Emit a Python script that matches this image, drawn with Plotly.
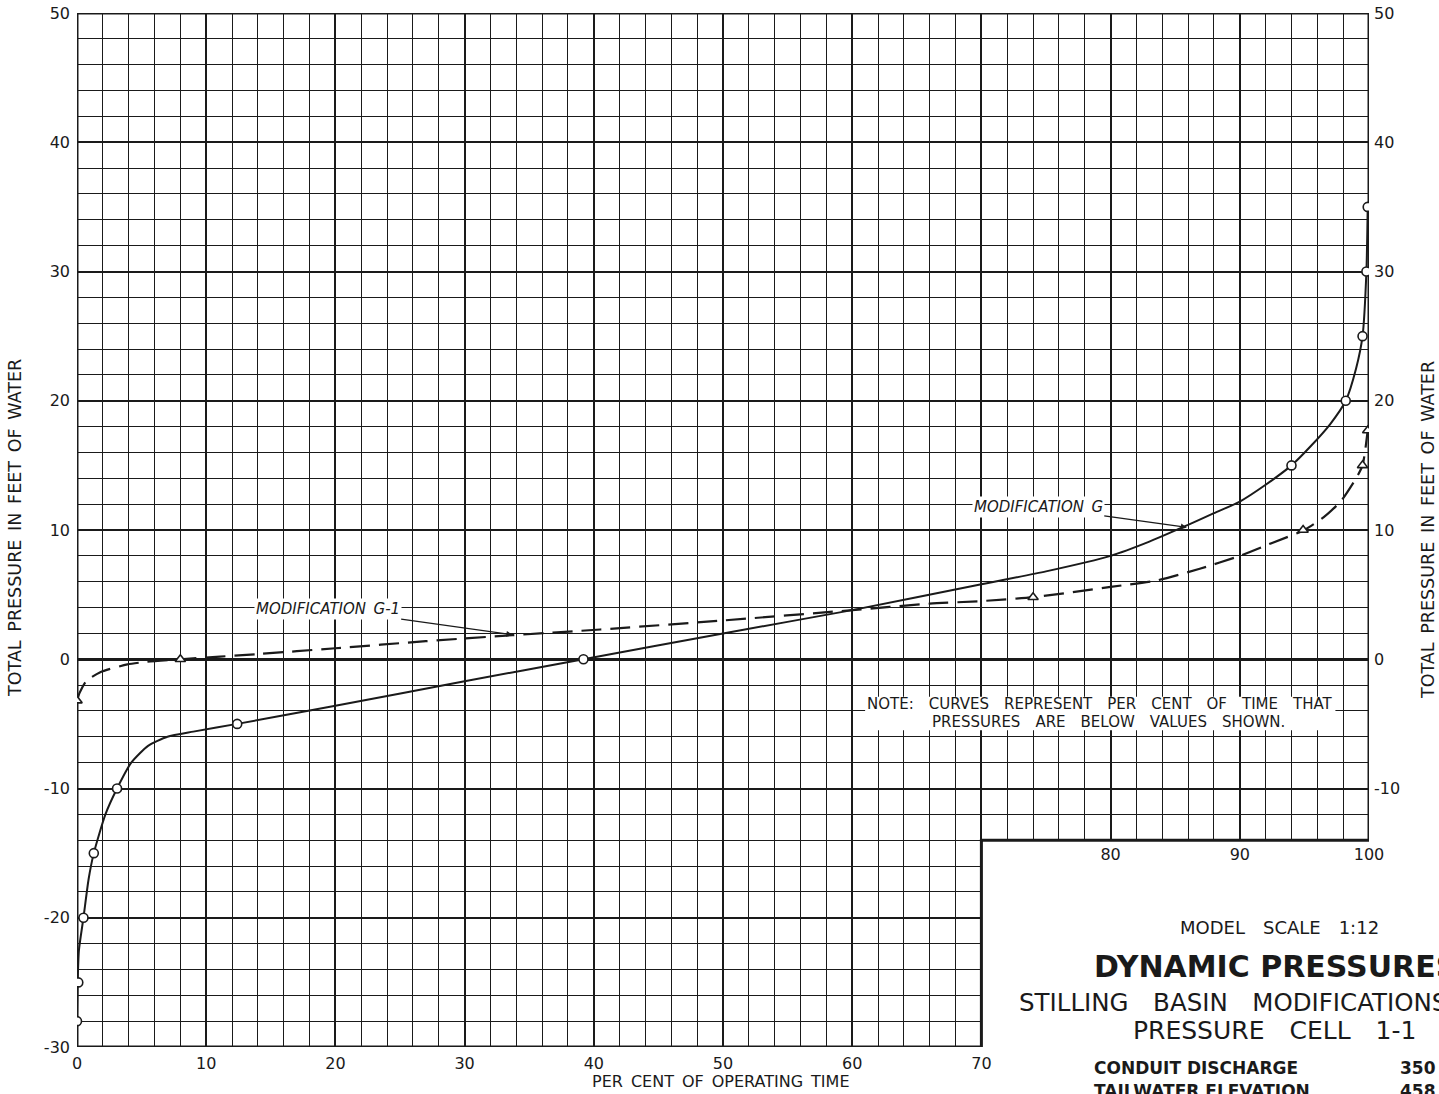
import plotly.graph_objects as go

# Modification G: plotted observations (open circles) and the faired curve
g_pts_x = [0, 0.1, 0.5, 1.3, 3.1, 12.4, 39.2, 94.0, 98.2, 99.5, 99.8, 99.9]
g_pts_y = [-28, -25, -20, -15, -10, -5, 0, 15, 20, 25, 30, 35]
g_curve_x = [0, 0.05, 0.15, 0.5, 0.9, 1.3, 2.2, 3.1, 4.2, 5.5, 7, 9, 12.4, 20, 30,
             39.2, 50, 60, 70, 75, 80, 83, 86, 88, 90, 92, 94, 95.5, 97, 98.2, 99, 99.5,
             99.8, 99.9]
g_curve_y = [-28, -25, -22.5, -20, -17, -15, -12, -10, -8, -6.7, -6, -5.6, -5, -3.6, -1.7,
             0, 2.0, 3.8, 5.8, 6.8, 8.0, 9.1, 10.4, 11.3, 12.2, 13.5, 15, 16.5, 18.2, 20,
             22.5, 25, 30, 35]

# Modification G-1: plotted observations (triangles) and the faired curve
g1_pts_x = [0, 8, 74, 94.9, 99.5, 99.9]
g1_pts_y = [-3.2, 0, 4.8, 10, 15, 17.7]
g1_curve_x = [0, 0.2, 0.7, 1.8, 3.9, 5.4, 8, 14, 20, 27, 33.7, 40.5, 50, 60, 66, 70, 74,
              80, 83.6, 86.9, 90, 92.5, 95, 96.5, 97.8, 99, 99.5, 99.9]
g1_curve_y = [-3.2, -2.6, -1.7, -1.0, -0.4, -0.2, 0, 0.4, 0.85, 1.4, 1.86, 2.3, 3.0, 3.8,
              4.3, 4.5, 4.8, 5.6, 6.1, 7.0, 8.0, 9.0, 10, 11, 12.2, 14, 15, 17.7]

x_ticks = [0, 10, 20, 30, 40, 50, 60, 70, 80, 90, 100]
x_labels_low = ['0', '10', '20', '30', '40', '50', '60', '70', '', '', '']
x_ticks_high = [80, 90, 100]
y_ticks = [-30, -20, -10, 0, 10, 20, 30, 40, 50]
y_labels = ['-30', '-20', '-10', '0', '10', '20', '30', '40', '50']
y_ticks_right = [-10, 0, 10, 20, 30, 40, 50]
y_labels_right = ['-10', '0', '10', '20', '30', '40', '50']

INK = '#1a1a1a'
FONT = 'DejaVu Sans'


def wide(s, n=1):
    # hand lettering on the original is widely spaced between words
    return s.replace(' ', '\u2002' * n)


fig = go.Figure()

# white-out of the lower right corner (the chart is cut there for the title block)
fig.add_shape(type='rect', x0=70, x1=101, y0=-31, y1=-14, layer='between',
              fillcolor='white', line=dict(width=0))
# white panel behind the note
fig.add_shape(type='rect', x0=61.0, x1=97.4, y0=-5.5, y1=-2.9, layer='between',
              fillcolor='white', line=dict(width=0))
# heavy border around the L-shaped grid
fig.add_shape(type='path', layer='between',
              path='M 0,50 L 100,50 L 100,-14 L 70,-14 L 70,-30 L 0,-30 Z',
              line=dict(color=INK, width=3))

fig.add_trace(go.Scatter(
    x=g_curve_x, y=g_curve_y, mode='lines',
    line=dict(color=INK, width=2, shape='spline', smoothing=0.6),
    hoverinfo='skip', showlegend=False))
fig.add_trace(go.Scatter(
    x=g1_curve_x, y=g1_curve_y, mode='lines',
    line=dict(color=INK, width=2.2, dash='20px,9px', shape='spline', smoothing=0.6),
    hoverinfo='skip', showlegend=False))
fig.add_trace(go.Scatter(
    x=g_pts_x, y=g_pts_y, mode='markers', name='Modification G',
    marker=dict(symbol='circle', size=9, color='white', line=dict(color=INK, width=1.6)),
    showlegend=False))
fig.add_trace(go.Scatter(
    x=g1_pts_x, y=g1_pts_y, mode='markers', name='Modification G-1',
    marker=dict(symbol='triangle-up', size=9, color='white', line=dict(color=INK, width=1.6)),
    showlegend=False))
# carrier for the secondary axes
fig.add_trace(go.Scatter(x=[None], y=[None], xaxis='x2', yaxis='y2',
                         showlegend=False, hoverinfo='skip'))

tick_font = dict(family=FONT, size=16, color=INK)
grid = dict(showgrid=True, gridcolor=INK, gridwidth=2,
            minor=dict(dtick=2, showgrid=True, gridcolor=INK, gridwidth=1.4))

fig.update_layout(
    width=1439, height=1094,
    margin=dict(l=77, r=70, t=13, b=47, pad=0),
    paper_bgcolor='white', plot_bgcolor='white',
    showlegend=False,
    font=dict(family=FONT, color=INK),
    xaxis=dict(range=[0, 100], tickvals=x_ticks, ticktext=x_labels_low, ticks='',
               zeroline=False, showline=False, automargin=False,
               tickfont=tick_font, ticklabelstandoff=5, **grid),
    yaxis=dict(range=[-30, 50], tickvals=y_ticks, ticktext=y_labels, ticks='',
               zeroline=True, zerolinecolor=INK, zerolinewidth=2.8,
               showline=False, automargin=False, tickfont=tick_font,
               ticklabelstandoff=6, ticklabeloverflow='allow', **grid),
    xaxis2=dict(range=[0, 100], overlaying='x', anchor='free', position=0.2, side='bottom',
                tickvals=x_ticks_high, ticks='', showgrid=False, zeroline=False,
                showline=False, automargin=False, tickfont=tick_font, ticklabelstandoff=3),
    yaxis2=dict(range=[-30, 50], overlaying='y', side='right', tickvals=y_ticks_right,
                ticktext=y_labels_right, ticks='', showgrid=False, zeroline=False,
                showline=False, automargin=False, tickfont=tick_font, ticklabelstandoff=4,
                ticklabeloverflow='allow'),
)

# curve labels with leader arrows
label_font = dict(family=FONT, size=15, color=INK, style='italic')
fig.add_annotation(x=33.7, y=1.9, ax=19.4, ay=3.9, axref='x', ayref='y',
                   text=wide('MODIFICATION G-1'), font=label_font, bgcolor='white',
                   showarrow=True, arrowhead=2, arrowsize=1, arrowwidth=1.2, arrowcolor=INK)
fig.add_annotation(x=85.9, y=10.2, ax=74.4, ay=11.8, axref='x', ayref='y',
                   text=wide('MODIFICATION G'), font=label_font, bgcolor='white',
                   showarrow=True, arrowhead=2, arrowsize=1, arrowwidth=1.2, arrowcolor=INK)

# note
note_font = dict(family=FONT, size=15, color=INK)
fig.add_annotation(x=79.2, y=-3.45, showarrow=False,
                   text=wide('NOTE: CURVES REPRESENT PER CENT OF TIME THAT', 2), font=note_font)
fig.add_annotation(x=79.8, y=-4.85, showarrow=False,
                   text=wide('PRESSURES ARE BELOW VALUES SHOWN.', 2), font=note_font)

# axis titles
title_font = dict(family=FONT, size=17.5, color=INK)
fig.add_annotation(xref='paper', yref='paper', x=-0.048, y=0.502, xanchor='center',
                   yanchor='middle', textangle=-90,
                   text=wide('TOTAL PRESSURE IN FEET OF WATER'), showarrow=False, font=title_font)
fig.add_annotation(xref='paper', yref='paper', x=1.0457, y=0.50, xanchor='center',
                   yanchor='middle', textangle=-90,
                   text=wide('TOTAL PRESSURE IN FEET OF WATER'), showarrow=False, font=title_font)
fig.add_annotation(xref='paper', yref='paper', x=0.4977, y=-0.0329, xanchor='center',
                   yanchor='middle', text=wide('PER CENT OF OPERATING TIME'),
                   showarrow=False, font=dict(family=FONT, size=16, color=INK))


# title block
def block(text, x, y, size, anchor='left', weight='normal'):
    fig.add_annotation(xref='paper', yref='paper', x=x, y=y, xanchor=anchor, yanchor='middle',
                       text=text, showarrow=False,
                       font=dict(family=FONT, size=size, color=INK, weight=weight))


block(wide('MODEL SCALE 1:12', 2), 0.931, 0.1151, 18, anchor='center')
block('DYNAMIC PRESSURES', 0.7856, 0.0783, 30, weight='bold')
block(wide('STILLING BASIN MODIFICATIONS', 2), 0.7276, 0.0426, 24.5)
block(wide('PRESSURE CELL 1-1', 2), 0.8157, 0.0155, 25)
block('CONDUIT DISCHARGE', 0.7856, -0.0203, 17, weight='bold')
block('350', 1.0225, -0.0203, 17, weight='bold')
block('TAILWATER ELEVATION', 0.7856, -0.0425, 17, weight='bold')
block('458', 1.0225, -0.0425, 17, weight='bold')

# the page is photographed at exactly the figure size, so drop the default body margin
fig.write_html("out.html", config={'displayModeBar': False},
               post_script="document.body.style.margin = '0px';")
